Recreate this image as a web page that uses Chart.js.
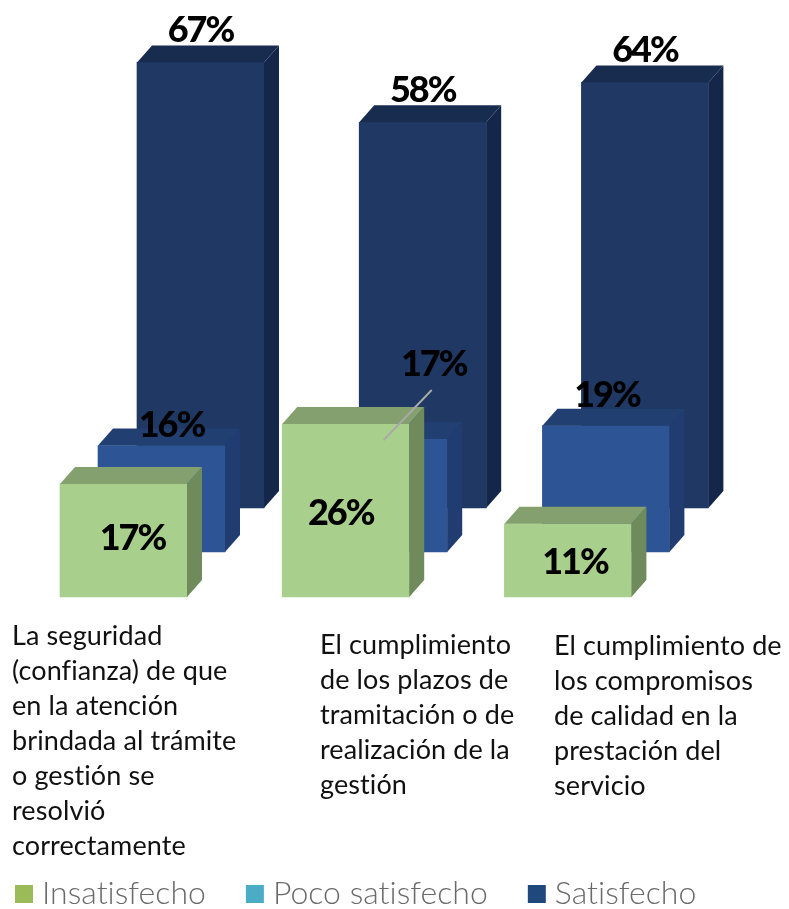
<!DOCTYPE html>
<html><head><meta charset="utf-8">
<style>html,body{margin:0;padding:0;background:#fff}#w{width:789px;height:909px;position:relative}canvas{display:block;filter:blur(0.4px)}</style>
<script src="https://cdn.jsdelivr.net/npm/chart.js@4/dist/chart.umd.min.js"></script>
</head><body><div id="w"><canvas id="c" width="789" height="909"></canvas></div>
<script>
const categories = [
  ["La seguridad","(confianza) de que","en la atención","brindada al trámite","o gestión se","resolvió","correctamente"],
  ["El cumplimiento","de los plazos de","tramitación o de","realización de la","gestión"],
  ["El cumplimiento de","los compromisos","de calidad en la","prestación del","servicio"]
];
const seriesNames = ["Insatisfecho","Poco satisfecho","Satisfecho"];
const insatisfecho = [17,26,11];
const pocoSatisfecho = [16,17,19];
const satisfecho = [67,58,64];
const legendColors = ["#9bbb59","#4bacc6","#1f497d"];

// styling and layout
const PX_PER_PCT = 6.65, SPACING = 222.2, DX = 15, DY = 17;
const geom = [
  {first:123.5, floor:597, front:"#a9cf8d", top:"#83a06e", side:"#6f8a5b"},
  {first:161.5, floor:552, front:"#2d5595", top:"#223f72", side:"#203c70"},
  {first:200.5, floor:508, front:"#1f3864", top:"#182c50", side:"#14264a"}
];
const labelFont = "900 36px Lato";
const labelOffsets = [
  [[9,66.5],[-5,100.5],[7,50.5]],
  [[10,-9],[50,-63],[1,-19]],
  [[0,-20],[0,-20],[0,-20]]
];
const catX = [12,320,554], catY = [645,654,655], LINE_H = 35;

function toXY(vals){return vals.map((v,i)=>({x:i,y:v}));}
function pctLabel(ctx,bar,ds,i,val){
  ctx.save();ctx.font=labelFont;ctx.letterSpacing="-2px";ctx.fillStyle="#000";ctx.textAlign="center";ctx.textBaseline="alphabetic";
  const o=labelOffsets[ds][i];
  ctx.fillText(val+"%",bar.x+o[0],bar.y+o[1]);ctx.restore();
}
const values=[insatisfecho,pocoSatisfecho,satisfecho];
const bars3d={
  id:"bars3d",
  beforeDraw(chart){ chart.ctx.letterSpacing="0.01px"; },
  afterLayout(chart){
    const a=chart.chartArea;
    geom.forEach((g,k)=>{
      const sx=chart.scales["x"+k], sy=chart.scales["y"+k];
      sx.min=(a.left-g.first)/SPACING; sx.max=sx.min+(a.right-a.left)/SPACING; sx.configure();
      sy.max=g.floor/PX_PER_PCT; sy.min=sy.max-(a.bottom-a.top)/PX_PER_PCT; sy.configure();
    });
  },
  afterDatasetDraw(chart,args){
    const k=args.index, g=geom[k], ctx=chart.ctx;
    args.meta.data.forEach((b,i)=>{
      const w=b.width/2, l=b.x-w, r=b.x+w, t=b.y, bt=b.base;
      ctx.save();
      ctx.fillStyle=g.side;ctx.beginPath();ctx.moveTo(r,bt);ctx.lineTo(r+DX,bt-DY);ctx.lineTo(r+DX,t-DY);ctx.lineTo(r,t);ctx.closePath();ctx.fill();
      ctx.fillStyle=g.top;ctx.beginPath();ctx.moveTo(l,t);ctx.lineTo(l+DX,t-DY);ctx.lineTo(r+DX,t-DY);ctx.lineTo(r,t);ctx.closePath();ctx.fill();
      ctx.restore();
    });
    // the 19% label sits behind the blue bars
    if(k===2){ pctLabel(ctx,chart.getDatasetMeta(1).data[2],1,2,values[1][2]); }
  },
  afterDatasetsDraw(chart){
    const ctx=chart.ctx;
    // leader line of the second blue bar
    const m=chart.getDatasetMeta(1).data[1];
    ctx.save();ctx.strokeStyle="#a9a9a9";ctx.lineWidth=2;ctx.beginPath();ctx.moveTo(m.x,m.y+1);ctx.lineTo(m.x+48,m.y-49);ctx.stroke();ctx.restore();
    values.forEach((vals,k)=>vals.forEach((v,i)=>{
      if(k===1&&i===2)return;
      pctLabel(ctx,chart.getDatasetMeta(k).data[i],k,i,v);
    }));
    ctx.save();ctx.font="27px Lato";ctx.letterSpacing="0.1px";ctx.fillStyle="#111";ctx.textAlign="left";ctx.textBaseline="alphabetic";
    categories.forEach((lines,i)=>lines.forEach((s,j)=>ctx.fillText(s,catX[i],catY[i]+j*LINE_H)));
    ctx.restore();
  }
};
const scales={};
geom.forEach((g,k)=>{
  scales["x"+k]={type:"linear",axis:"x",position:"bottom",display:false,offset:false,min:-1,max:3};
  scales["y"+k]={type:"linear",axis:"y",position:"left",display:false,min:-10,max:100};
});
new Chart(document.getElementById("c"),{
  type:"bar",
  data:{labels:categories.map(l=>l.join(" ")),datasets:values.map((v,k)=>({
    label:seriesNames[k],data:toXY(v),xAxisID:"x"+k,yAxisID:"y"+k,grouped:false,
    backgroundColor:geom[k].front,barThickness:127,clip:false,borderWidth:0
  }))},
  options:{
    responsive:false,animation:false,
    layout:{padding:{left:-25,top:0,right:0,bottom:-11}},
    scales,
    plugins:{
      tooltip:{enabled:false},
      legend:{position:"bottom",align:"start",padding:0,
        labels:{boxWidth:4,boxHeight:4,padding:47,color:"#6a6a6a",font:{family:"Lato",size:32,weight:"300"},
          generateLabels:(chart)=>seriesNames.map((n,i)=>({text:n,fillStyle:legendColors[i],strokeStyle:legendColors[i],lineWidth:14,datasetIndex:i,hidden:false,fontColor:"#6a6a6a"}))
        }}
    }
  },
  plugins:[bars3d]
});
</script></body></html>
